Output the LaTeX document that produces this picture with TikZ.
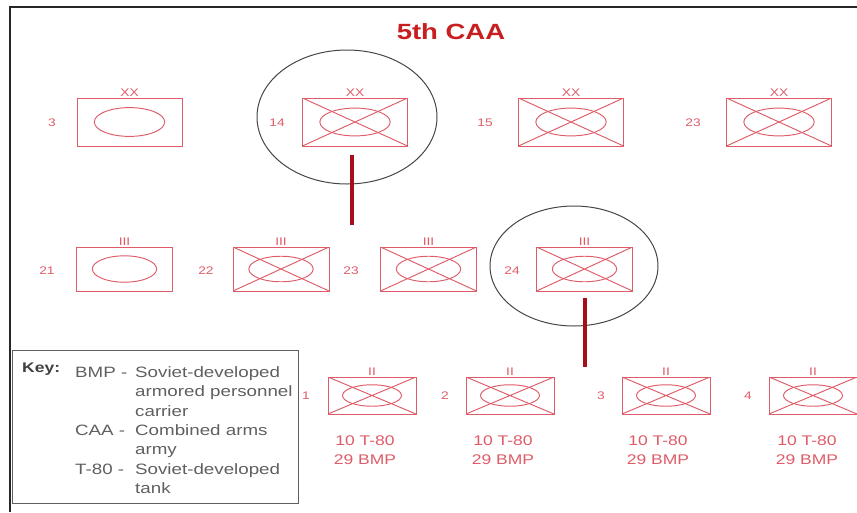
\documentclass[tikz,border=0pt]{standalone}
\usepackage{fontspec}
\setmainfont{Liberation Sans}[FakeStretch=1.25]
\usepackage{tikz}
\usetikzlibrary{calc,positioning,shapes.geometric}
\definecolor{unitred}{RGB}{222,92,104}
\definecolor{titlered}{RGB}{200,30,32}
\definecolor{linkred}{RGB}{168,14,24}
\definecolor{ringgray}{RGB}{70,70,70}
\definecolor{keygray}{RGB}{95,95,95}
\tikzset{
	unit/.style={draw=unitred, line width=0.95pt, rectangle, inner sep=0pt},
	armor/.style={unit, path picture={
		\draw [unitred, line width=0.95pt] let \p1=(path picture bounding box.north east),
			\p2=(path picture bounding box.center) in
			(\p2) ellipse [x radius={0.67*(\x1-\x2)}, y radius={0.6*(\y1-\y2)}];}},
	mech/.style={unit, path picture={
		\draw [unitred, line width=0.95pt] (path picture bounding box.north west) -- (path picture bounding box.south east)
			(path picture bounding box.south west) -- (path picture bounding box.north east);
		\draw [unitred, line width=0.95pt] let \p1=(path picture bounding box.north east),
			\p2=(path picture bounding box.center) in
			(\p2) ellipse [x radius={0.67*(\x1-\x2)}, y radius={0.58*(\y1-\y2)}];}},
	ech/.style={font=\fontsize{11}{11}\selectfont, text=unitred, inner sep=0.5pt},
	div/.style={minimum width=105pt, minimum height=48pt, label={[ech]above:XX}},
	regt/.style={minimum width=96pt, minimum height=44pt, label={[ech]above:III}},
	btn/.style={minimum width=88pt, minimum height=37pt, label={[ech]above:II}},
	num/.style={font=\fontsize{11}{11}\selectfont, text=unitred, inner sep=0pt},
	strength/.style={font=\fontsize{14}{19}\selectfont, text=unitred, align=center, inner sep=0pt},
	ring/.style={ellipse, draw=ringgray, line width=1pt, inner sep=0pt},
	link/.style={draw=linkred, line width=4pt},
	keytext/.style={font=\fontsize{15}{19.3}\selectfont, text=keygray, inner sep=0pt}
}

\begin{document}
\begin{tikzpicture}[x=1pt, y=-1pt]
	\useasboundingbox (0,0) rectangle (857,512);
	\draw [line width=2.2pt, black!85] (10,512) -- (10,7) -- (857,7);

	\node [font=\bfseries\fontsize{22}{22}\selectfont, text=titlered] (caa) at (451,32) {5th CAA};

	% divisions
	\node [armor, div] (d3) at (129.5,122) {};
	\node [mech, div] (d14) at (355,122) {};
	\node [mech, div] (d15) at (571,122) {};
	\node [mech, div] (d23) at (779,122) {};
	\node [num] (n3) at (52,123) {3};
	\node [num] (n14) at (277,123) {14};
	\node [num] (n15) at (485,123) {15};
	\node [num] (n23) at (693,123) {23};

	% regiments
	\node [armor, regt] (r21) at (124.5,269) {};
	\node [mech, regt] (r22) at (281,269) {};
	\node [mech, regt] (r23) at (428.5,269) {};
	\node [mech, regt] (r24) at (584.5,269) {};
	\node [num] (n21) at (47,271) {21};
	\node [num] (n22) at (206,271) {22};
	\node [num] (n23r) at (351,271) {23};
	\node [num] (n24) at (512,271) {24};

	% battalions
	\node [mech, btn] (b1) at (372,395.5) {};
	\node [mech, btn] (b2) at (510,395.5) {};
	\node [mech, btn] (b3) at (666,395.5) {};
	\node [mech, btn] (b4) at (813,395.5) {};
	\node [num] (n1) at (306,396) {1};
	\node [num] (n2) at (445,396) {2};
	\node [num] (n3b) at (601,396) {3};
	\node [num] (n4) at (748,396) {4};
	\node [strength] (s1) at (365,450) {10 T-80\\29 BMP};
	\node [strength] (s2) at (503,450) {10 T-80\\29 BMP};
	\node [strength] (s3) at (658,450) {10 T-80\\29 BMP};
	\node [strength] (s4) at (807,450) {10 T-80\\29 BMP};

	\node [ring, minimum width=180pt, minimum height=134pt] (o14) at (347,117) {};
	\node [ring, minimum width=168pt, minimum height=120pt] (o24) at (574,266) {};
	\coordinate (t14) at (352,155);
	\coordinate (e14) at (352,225);
	\coordinate (t24) at (585,298);
	\coordinate (e24) at (585,367);
	\draw [link] (t14) -- (e14);
	\draw [link] (t24) -- (e24);

	% key
	\node [draw=keygray, line width=1.2pt, minimum width=286pt, minimum height=153pt, anchor=north west, inner sep=0pt] (key) at (12,350) {};
	\node [font=\bfseries\fontsize{14}{14}\selectfont, text=black!75, inner sep=0pt, anchor=base west] (keyhead) at (22,372) {Key:};
	\node [keytext, anchor=base west] (keylist) at (75,377.5) {%
		\begin{tabular}[t]{@{}p{60pt}@{}l@{}}
			BMP - & Soviet-developed\\
			& armored personnel\\
			& carrier\\
			CAA - & Combined arms\\
			& army\\
			T-80 - & Soviet-developed\\
			& tank
		\end{tabular}};
\end{tikzpicture}
\end{document}
